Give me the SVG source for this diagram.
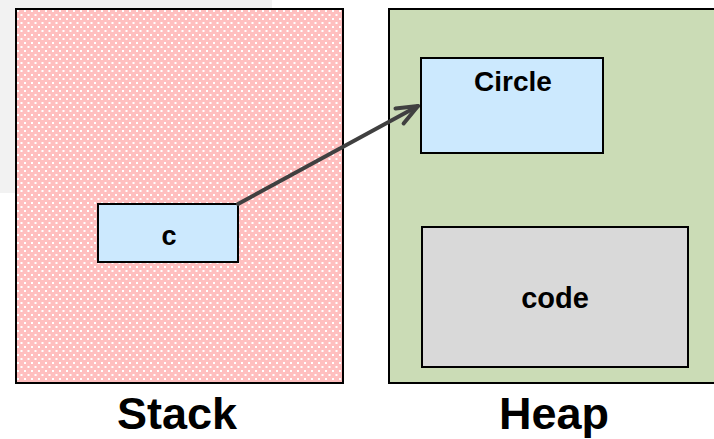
<svg xmlns="http://www.w3.org/2000/svg" width="714" height="439" viewBox="0 0 714 439">
<style>
  .box { stroke: #000; stroke-width: 2; }
  .inner { fill: #cce9fe; stroke: #000; stroke-width: 2; }
  .lbl { font-family: "Liberation Sans", Arial, sans-serif; font-weight: bold; fill: #000; text-anchor: middle; }
  .conn { stroke: #404040; stroke-width: 4; fill: none; stroke-linecap: round; }
</style>
<defs>
  <pattern id="dots" x="16" y="9" width="7" height="8" patternUnits="userSpaceOnUse">
    <rect width="7" height="8" fill="#ffbfbf"/>
    <rect x="1" y="1" width="2" height="2" fill="#fff"/>
    <rect x="4.5" y="5" width="2" height="2" fill="#fff"/>
  </pattern>
  <marker id="chev" markerUnits="userSpaceOnUse" viewBox="-26 -13 30 26" refX="0" refY="0" markerWidth="30" markerHeight="26" orient="auto">
    <path d="M-21,-8.5 L0,0 L-21,8.5" fill="none" stroke="#404040" stroke-width="4" stroke-linecap="round" stroke-linejoin="round"/>
  </marker>
</defs>
<rect x="0" y="0" width="272" height="193" fill="#f2f2f2"/>
<g id="stack">
  <rect class="box" x="16" y="9" width="327" height="374" fill="url(#dots)"/>
  <text class="lbl" x="177" y="429" font-size="45">Stack</text>
</g>
<g id="heap">
  <rect class="box" x="389" y="9" width="340" height="374" fill="#cbdcb6"/>
  <text class="lbl" x="554" y="429" font-size="45">Heap</text>
</g>
<g id="c">
  <rect class="inner" x="98" y="204" width="140" height="58"/>
  <text class="lbl" x="169" y="245" font-size="27">c</text>
</g>
<g id="circle">
  <rect class="inner" x="421" y="58" width="182" height="95"/>
  <text class="lbl" x="513" y="91" font-size="28">Circle</text>
</g>
<g id="code">
  <rect class="box" x="422" y="227" width="266" height="140" fill="#d9d9d9"/>
  <text class="lbl" x="555" y="308" font-size="29">code</text>
</g>
<g id="connectors">
  <line class="conn" x1="238" y1="204" x2="418" y2="106" marker-end="url(#chev)"/>
</g>
</svg>
